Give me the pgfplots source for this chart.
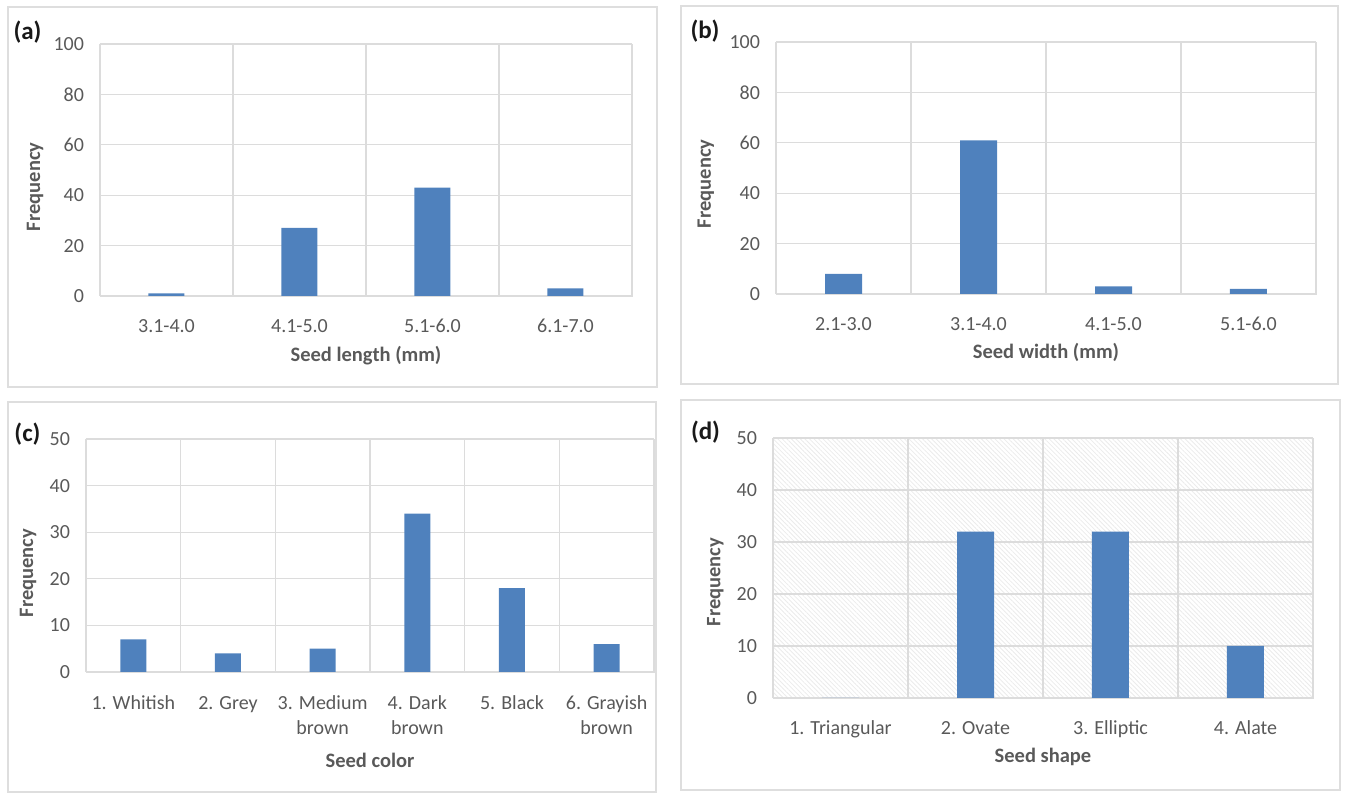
\documentclass[border=0pt]{standalone}
\usepackage{fontspec}
\setmainfont{Carlito}
\usepackage{pgfplots}
\pgfplotsset{compat=1.18}
\usetikzlibrary{patterns.meta}
\definecolor{barblue}{RGB}{79,129,189}
\definecolor{txt}{RGB}{89,89,89}
\definecolor{gridc}{RGB}{220,220,220}
\definecolor{boxc}{RGB}{222,222,222}
\pgfplotsset{
  panel/.style={
    scale only axis, anchor=south west,
    ybar, ymin=0,
    xtick=data,
    axis line style={draw=gridc},
    ymajorgrids, xminorgrids,
    major grid style={draw=gridc, line width=0.6pt},
    minor grid style={draw=gridc, line width=0.6pt},
    major tick length=0pt, minor tick length=0pt,
    tick label style={font=\fontsize{10}{12.5}\selectfont, text=txt},
    /pgf/number format/assume math mode=true,
    yticklabel style={xshift=-4.5pt},
    xticklabel style={anchor=north, yshift=-8pt, align=center},
    label style={font=\bfseries\fontsize{10.25}{12}\selectfont, text=txt},
  }
}
\begin{document}
\begin{tikzpicture}
\path (0,0) rectangle (673pt,398.5pt);
% panel boxes
\draw[boxc, line width=0.6pt] (4pt,205pt) rectangle (328.5pt,395pt);
\draw[boxc, line width=0.6pt] (340.5pt,206.5pt) rectangle (669pt,395.5pt);
\draw[boxc, line width=0.6pt] (4pt,2.5pt) rectangle (328pt,197.5pt);
\draw[boxc, line width=0.6pt] (340.5pt,3.5pt) rectangle (670pt,198.5pt);

% (a)
\begin{axis}[panel, at={(50pt,250.5pt)}, width=266pt, height=126pt,
  xmin=-0.5, xmax=3.5, ymax=100, ytick={0,20,...,100},
  minor xtick={-0.5,0.5,...,3.5},
  xticklabels={3.1-4.0,4.1-5.0,5.1-6.0,6.1-7.0},
  bar width=18pt,
  xlabel={Seed length (mm)}, ylabel={Frequency},
  xlabel style={at={(axis description cs:0.5,-0.238)}, anchor=center},
  ylabel style={at={(axis description cs:-0.122,0.433)}, anchor=center}]
\addplot[fill=barblue, draw=none] coordinates {(0,1) (1,27) (2,43) (3,3)};
\end{axis}

% (b)
\begin{axis}[panel, at={(388pt,251.5pt)}, width=270pt, height=126pt,
  xmin=-0.5, xmax=3.5, ymax=100, ytick={0,20,...,100},
  minor xtick={-0.5,0.5,...,3.5},
  xticklabels={2.1-3.0,3.1-4.0,4.1-5.0,5.1-6.0},
  bar width=18.5pt,
  xlabel={Seed width (mm)}, ylabel={Frequency},
  xlabel style={at={(axis description cs:0.5,-0.230)}, anchor=center},
  ylabel style={at={(axis description cs:-0.130,0.437)}, anchor=center}]
\addplot[fill=barblue, draw=none] coordinates {(0,8) (1,61) (2,3) (3,2)};
\end{axis}

% (c)
\begin{axis}[panel, at={(43pt,62.5pt)}, width=284pt, height=116.5pt,
  xmin=-0.5, xmax=5.5, ymax=50, ytick={0,10,...,50},
  minor xtick={-0.5,0.5,...,5.5},
  xticklabels={1. Whitish,2. Grey,3. Medium\\brown,4. Dark\\brown,5. Black,6. Grayish\\brown},
  xticklabel style={yshift=-0.5pt},
  bar width=13pt,
  xlabel={Seed color}, ylabel={Frequency},
  xlabel style={at={(axis description cs:0.5,-0.378)}, anchor=center},
  ylabel style={at={(axis description cs:-0.102,0.425)}, anchor=center}]
\addplot[fill=barblue, draw=none] coordinates {(0,7) (1,4) (2,5) (3,34) (4,18) (5,6)};
\end{axis}

% (d)
\begin{axis}[panel, at={(386.5pt,49.5pt)}, width=270pt, height=130pt,
  xmin=-0.5, xmax=3.5, ymax=50, ytick={0,10,...,50},
  minor xtick={-0.5,0.5,...,3.5},
  xticklabels={1. Triangular,2. Ovate,3. Elliptic,4. Alate},
  bar width=18.5pt,
  axis background/.style={pattern={Lines[angle=-45, distance=1.6pt, line width=0.4pt]}, pattern color=gray!16},
  xlabel={Seed shape}, ylabel={Frequency},
  xlabel style={at={(axis description cs:0.5,-0.227)}, anchor=center},
  ylabel style={at={(axis description cs:-0.107,0.446)}, anchor=center}]
\addplot[fill=barblue, draw=none] coordinates {(0,0) (1,32) (2,32) (3,10)};
\end{axis}

% panel letters
\node[font=\bfseries\fontsize{12.5}{14}\selectfont, text=black!90] at (13.75pt,382.5pt) {(a)};
\node[font=\bfseries\fontsize{12.5}{14}\selectfont, text=black!90] at (352.5pt,383pt) {(b)};
\node[font=\bfseries\fontsize{12.5}{14}\selectfont, text=black!90] at (13.75pt,181.5pt) {(c)};
\node[font=\bfseries\fontsize{12.5}{14}\selectfont, text=black!90] at (352.75pt,182.5pt) {(d)};
\end{tikzpicture}
\end{document}
